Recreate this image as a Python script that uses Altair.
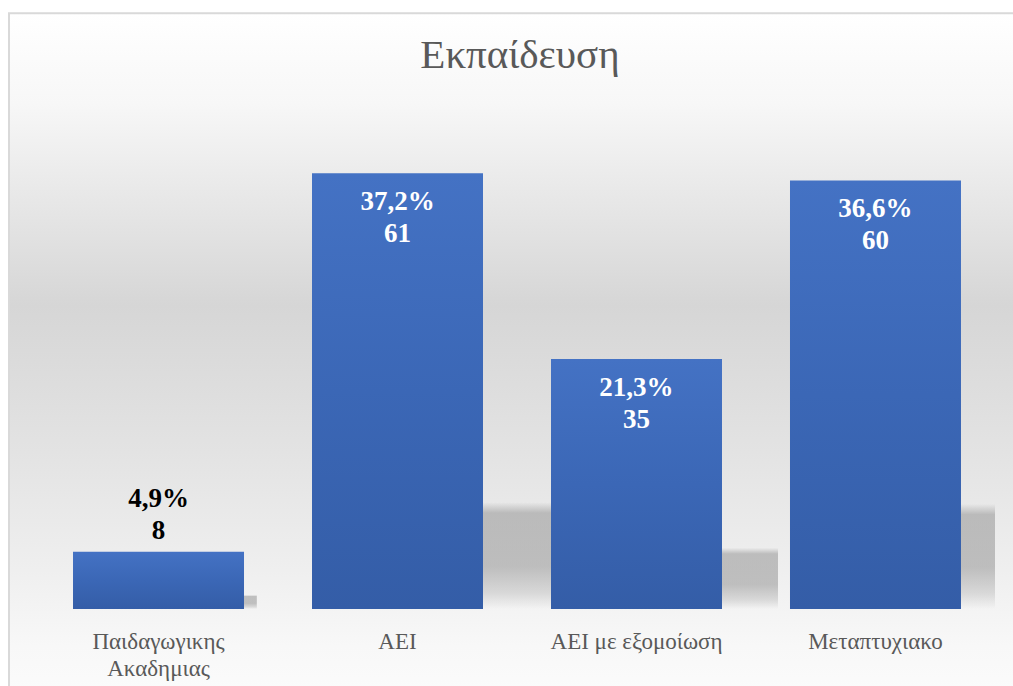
import altair as alt
import pandas as pd

categories = ["Παιδαγωγικης\nΑκαδημιας", "ΑΕΙ", "ΑΕΙ με εξομοίωση", "Μεταπτυχιακο"]
counts = [8, 61, 35, 60]
percents = [4.9, 37.2, 21.3, 36.6]

df = pd.DataFrame({"cat": categories, "count": counts, "pct": percents})
df["label"] = [f"{p:.1f}".replace(".", ",") + "%\n" + str(c) for p, c in zip(percents, counts)]

FONT = "Liberation Serif"

x_enc = alt.X("cat:N", sort=categories,
              scale=alt.Scale(paddingInner=0.2845, paddingOuter=0.1423),
              axis=alt.Axis(title=None, labelAngle=0, domain=False, ticks=False, tickSize=0,
                            labelFont=FONT, labelFontSize=23, labelColor="#595959",
                            labelBaseline="alphabetic", labelPadding=39, labelLineHeight=27,
                            labelLimit=400, grid=False, zindex=1,
                            labelExpr="split(datum.label, '\\n')"))
y_scale = alt.Scale(domain=[0, 70], nice=False)

bg_grad = alt.LinearGradient(
    gradient="linear", x1=0, x2=0, y1=0, y2=1,
    stops=[
        alt.GradientStop(color="#ffffff", offset=0),
        alt.GradientStop(color="#f7f7f7", offset=0.13),
        alt.GradientStop(color="#d6d6d6", offset=0.42),
        alt.GradientStop(color="#e3e3e3", offset=0.63),
        alt.GradientStop(color="#efefef", offset=0.80),
        alt.GradientStop(color="#f8f8f8", offset=0.91),
        alt.GradientStop(color="#fcfcfc", offset=1),
    ])

bar_grad = alt.LinearGradient(
    gradient="linear", x1=0, x2=0, y1=0, y2=1,
    stops=[
        alt.GradientStop(color="#4472C4", offset=0),
        alt.GradientStop(color="#3B67B6", offset=0.5),
        alt.GradientStop(color="#345DA7", offset=1),
    ])

shadow_grad = alt.LinearGradient(
    gradient="linear", x1=0, x2=0, y1=0, y2=1,
    stops=[
        alt.GradientStop(color="rgba(140,140,140,0)", offset=0),
        alt.GradientStop(color="rgba(140,140,140,0.5)", offset=0.1),
        alt.GradientStop(color="rgba(140,140,140,0.5)", offset=0.6),
        alt.GradientStop(color="rgba(140,140,140,0.25)", offset=0.85),
        alt.GradientStop(color="rgba(140,140,140,0)", offset=1),
    ])

bg = alt.Chart(pd.DataFrame({"a": [0]})).mark_rect(
    fill=bg_grad, stroke="#d9d9d9", strokeWidth=2, clip=False
).encode(x=alt.value(-30), x2=alt.value(990), y=alt.value(-95.7), y2=alt.value(600))

base = alt.Chart(df)

shadow = base.transform_calculate(sh="datum.count * 0.245").mark_bar(
    fill=shadow_grad, clip=True, xOffset=alt.expr("datum.count * 1.6")
).encode(x=x_enc, y=alt.Y("sh:Q", scale=y_scale, axis=None))

bars = base.mark_bar(fill=bar_grad).encode(
    x=x_enc, y=alt.Y("count:Q", scale=y_scale, axis=None))

inside = base.transform_filter("datum.count >= 20").mark_text(
    font=FONT, fontSize=27, fontWeight="bold", color="white",
    baseline="top", align="center", dy=16, lineBreak="\n", lineHeight=32
).encode(x=x_enc, y=alt.Y("count:Q", scale=y_scale, axis=None), text="label:N")

outside = base.transform_filter("datum.count < 20").mark_text(
    font=FONT, fontSize=27, fontWeight="bold", color="black",
    baseline="top", align="center", dy=-66, lineBreak="\n", lineHeight=32
).encode(x=x_enc, y=alt.Y("count:Q", scale=y_scale, axis=None), text="label:N")

title = alt.Chart(pd.DataFrame({"t": ["Εκπαίδευση"]})).mark_text(
    font=FONT, fontSize=41, color="#595959", baseline="alphabetic", align="center"
).encode(x=alt.value(481), y=alt.value(-41), text="t:N")

chart = alt.layer(bg, shadow, bars, inside, outside, title).properties(
    width=956, height=500,
    autosize=alt.AutoSizeParams(type="none"),
    padding={"left": 39, "top": 109, "right": 18, "bottom": 77},
    background="white",
).configure_view(strokeWidth=0)

chart.save("out.html", embed_options={"renderer": "svg", "actions": False})
